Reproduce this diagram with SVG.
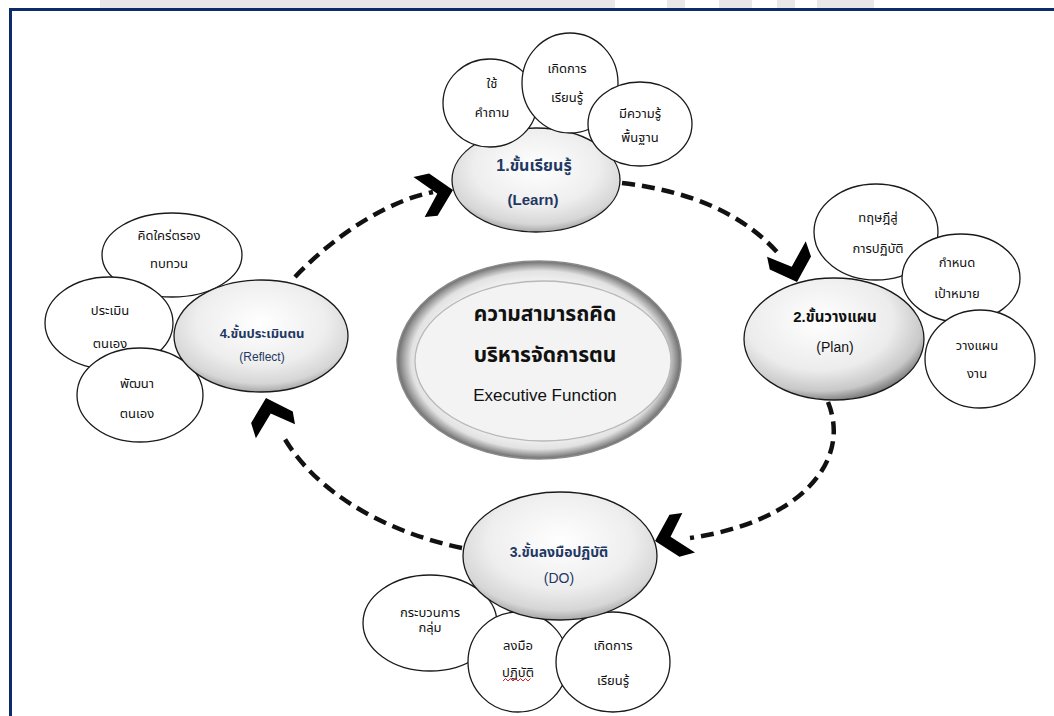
<svg xmlns="http://www.w3.org/2000/svg" width="1054" height="716" viewBox="0 0 1054 716">
<defs>
<radialGradient id="gMain" cx="50%" cy="38%" r="62%">
<stop offset="0" stop-color="#ffffff"/>
<stop offset="0.6" stop-color="#eeeeee"/>
<stop offset="0.88" stop-color="#d6d6d6"/>
<stop offset="1" stop-color="#a8a8a8"/>
</radialGradient>
<radialGradient id="gPlan" cx="42%" cy="35%" r="68%">
<stop offset="0" stop-color="#ffffff"/>
<stop offset="0.6" stop-color="#ececec"/>
<stop offset="0.85" stop-color="#c8c8c8"/>
<stop offset="1" stop-color="#6e6e6e"/>
</radialGradient>
<radialGradient id="gCenter" cx="50%" cy="50%" r="50%">
<stop offset="0" stop-color="#f7f7f7"/>
<stop offset="0.82" stop-color="#eeeeee"/>
<stop offset="0.9" stop-color="#e2e2e2"/>
<stop offset="0.96" stop-color="#9c9c9c"/>
<stop offset="1" stop-color="#6a6a6a"/>
</radialGradient>
<polygon id="chev" points="0,0 -18,24 -31,24 -16,2 -38,-17 -22,-19"/>
</defs>
<style>
.sm{fill:#ffffff;stroke:#1a1a1a;stroke-width:1.3}
.big{stroke:#1a1a1a;stroke-width:1.3}
.t{font-family:"Liberation Sans","Noto Sans Thai","Noto Sans",sans-serif;font-size:13px;fill:#111;text-anchor:middle}
.h{font-family:"Liberation Sans","Noto Sans Thai","Noto Sans",sans-serif;font-weight:bold;fill:#1f3864;text-anchor:middle}
.n{font-family:"Liberation Sans","Noto Sans Thai","Noto Sans",sans-serif;fill:#1f3864;text-anchor:middle}
.c{font-family:"Liberation Sans","Noto Sans Thai","Noto Sans",sans-serif;fill:#111;text-anchor:middle}
.dash{fill:none;stroke:#111;stroke-width:4.5;stroke-dasharray:13 7}
</style>
<rect width="1054" height="716" fill="#ffffff"/>
<g id="watermark" fill="#e8e8e8">
<rect x="100" y="0" width="515" height="8"/>
<rect x="667" y="0" width="18" height="8"/>
<rect x="719" y="0" width="33" height="8"/>
<rect x="777" y="0" width="18" height="8"/>
<rect x="817" y="0" width="57" height="8"/>
</g>
<g id="frame" fill="none" stroke="#0d2b6b" stroke-width="3">
<path d="M10.5,716 V9.5 H1054"/>
</g>

<g id="connectors">
<path class="dash" d="M622,183 Q725,195 777,252"/>
<use href="#chev" fill="#000" transform="translate(797,282) rotate(78)"/>
<path class="dash" d="M828,402 C852,462 800,522 690,538"/>
<use href="#chev" fill="#000" transform="translate(655,541) rotate(172)"/>
<path class="dash" d="M462,548 C385,532 315,492 283,436"/>
<use href="#chev" fill="#000" transform="translate(266,398) rotate(-100)"/>
<path class="dash" d="M295,277 C340,230 392,200 433,192"/>
<use href="#chev" fill="#000" transform="translate(453,190) rotate(-6)"/>
</g>

<g id="center">
<ellipse cx="539" cy="360" rx="142" ry="99" fill="url(#gCenter)" stroke="#8a8a8a" stroke-width="1.5"/>
<ellipse cx="543" cy="361" rx="128" ry="80" fill="#f3f3f3" stroke="#b8b8b8" stroke-width="1.3"/>
<text class="c" x="545" y="321" font-size="21" font-weight="bold">ความสามารถคิด</text>
<text class="c" x="545" y="362" font-size="21" font-weight="bold">บริหารจัดการตน</text>
<text class="c" x="545" y="401" font-size="17">Executive  Function</text>
</g>

<g id="learn">
<ellipse class="big" cx="536" cy="180" rx="84" ry="52" fill="url(#gMain)"/>
<text class="h" x="534" y="171" font-size="16">1.ขั้นเรียนรู้</text>
<text class="h" x="533" y="205" font-size="15">(Learn)</text>
</g>
<g id="learn-q">
<ellipse class="sm" cx="490" cy="103" rx="47" ry="44"/>
<text class="t" x="492" y="88">ใช้</text>
<text class="t" x="492" y="117">คำถาม</text>
</g>
<g id="learn-l">
<ellipse class="sm" cx="570" cy="83" rx="48" ry="50"/>
<text class="t" x="567" y="73">เกิดการ</text>
<text class="t" x="567" y="102">เรียนรู้</text>
</g>
<g id="learn-b">
<ellipse class="sm" cx="640" cy="124" rx="52" ry="42"/>
<text class="t" x="640" y="118">มีความรู้</text>
<text class="t" x="640" y="142">พื้นฐาน</text>
</g>

<g id="plan-t">
<ellipse class="sm" cx="876" cy="232" rx="62" ry="48"/>
<text class="t" x="878" y="222">ทฤษฎีสู่</text>
<text class="t" x="878" y="253">การปฏิบัติ</text>
</g>
<g id="plan-g">
<ellipse class="sm" cx="961" cy="278" rx="59" ry="44"/>
<text class="t" x="957" y="267">กำหนด</text>
<text class="t" x="957" y="298">เป้าหมาย</text>
</g>
<g id="plan-w">
<ellipse class="sm" cx="980" cy="359" rx="55" ry="49"/>
<text class="t" x="977" y="350">วางแผน</text>
<text class="t" x="977" y="378">งาน</text>
</g>
<g id="plan">
<ellipse class="big" cx="834" cy="339" rx="90" ry="61" fill="url(#gPlan)"/>
<text class="c" x="835" y="322" font-size="15" font-weight="bold">2.ขั้นวางแผน</text>
<text class="c" x="835" y="352" font-size="14">(Plan)</text>
</g>

<g id="reflect-t">
<ellipse class="sm" cx="172" cy="255" rx="70" ry="42"/>
<text class="t" x="169" y="240">คิดใคร่ตรอง</text>
<text class="t" x="169" y="268">ทบทวน</text>
</g>
<g id="reflect-e">
<ellipse class="sm" cx="109" cy="323" rx="64" ry="46"/>
<text class="t" x="110" y="315">ประเมิน</text>
<text class="t" x="110" y="348">ตนเอง</text>
</g>
<g id="reflect-d">
<ellipse class="sm" cx="140" cy="395" rx="63" ry="47"/>
<text class="t" x="137" y="388">พัฒนา</text>
<text class="t" x="137" y="418">ตนเอง</text>
</g>
<g id="reflect">
<ellipse class="big" cx="261" cy="336" rx="87" ry="56" fill="url(#gMain)"/>
<text class="h" x="262" y="338" font-size="13">4.ขั้นประเมินตน</text>
<text class="n" x="262" y="361" font-size="12">(Reflect)</text>
</g>

<g id="do-g">
<ellipse class="sm" cx="430" cy="623" rx="67" ry="48"/>
<text class="t" x="430" y="617">กระบวนการ</text>
<text class="t" x="430" y="632">กลุ่ม</text>
</g>
<g id="do-h">
<ellipse class="sm" cx="518" cy="662" rx="50" ry="50"/>
<text class="t" x="518" y="650">ลงมือ</text>
<text class="t" x="518" y="677">ปฏิบัติ</text>
<path d="M503,681 l2.5,-2.5 l2.5,2.5 l2.5,-2.5 l2.5,2.5 l2.5,-2.5 l2.5,2.5 l2.5,-2.5 l2.5,2.5 l2.5,-2.5 l2.5,2.5 l2.5,-2.5" fill="none" stroke="#e02020" stroke-width="1"/>
</g>
<g id="do-l">
<ellipse class="sm" cx="613" cy="662" rx="57" ry="50"/>
<text class="t" x="613" y="650">เกิดการ</text>
<text class="t" x="613" y="685">เรียนรู้</text>
</g>
<g id="do">
<ellipse class="big" cx="560" cy="556" rx="97" ry="64" fill="url(#gMain)"/>
<text class="h" x="559" y="557" font-size="14">3.ขั้นลงมือปฏิบัติ</text>
<text class="n" x="559" y="583" font-size="14">(DO)</text>
</g>
</svg>
